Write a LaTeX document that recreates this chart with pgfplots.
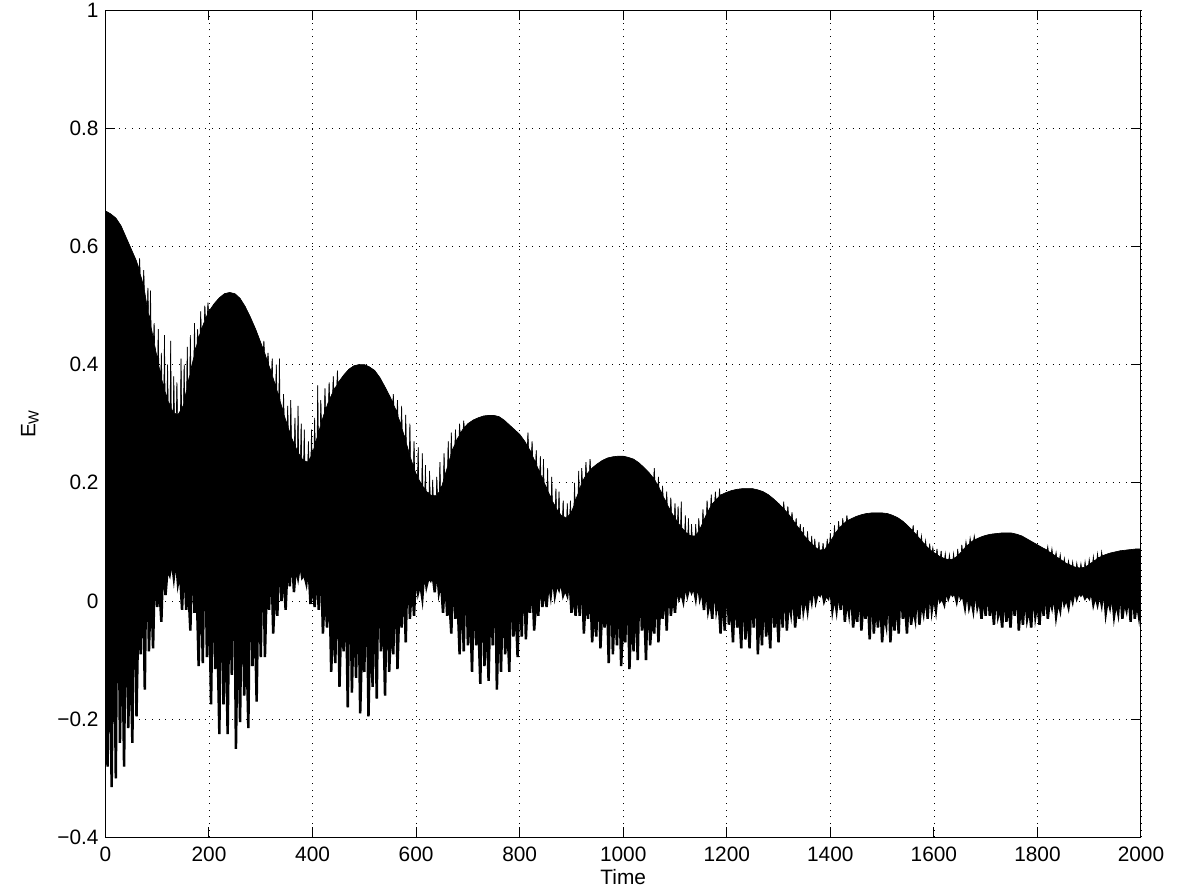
\documentclass[border=0pt]{standalone}
\usepackage{fontspec}
\setmainfont{Liberation Sans}
\usepackage{pgfplots}
\usepackage{pgfplotstable}
\pgfplotsset{compat=1.18}
\begin{document}
\pgfplotstableread[row sep=\\]{
x y\\
0 0.66\\ 10 0.655\\ 20 0.648\\ 30 0.635\\ 40 0.615\\ 50 0.595\\ 60 0.575\\ 65 0.56\\ 66 0.58\\ 67 0.553\\ 70 0.545\\
73 0.533\\ 74 0.56\\ 75 0.527\\ 80 0.50\\ 81 0.495\\ 82 0.53\\ 83 0.486\\ 86 0.473\\ 87 0.525\\ 88 0.464\\ 90 0.455\\
93 0.44\\ 94 0.47\\ 95 0.433\\ 100 0.41\\ 101 0.406\\ 102 0.46\\ 103 0.398\\ 107 0.382\\ 108 0.42\\ 109 0.374\\ 110 0.37\\
113 0.361\\ 114 0.45\\ 115 0.355\\ 119 0.343\\ 120 0.40\\ 121 0.338\\ 125 0.33\\ 126 0.44\\ 127 0.326\\ 130 0.32\\
131 0.32\\ 132 0.38\\ 133 0.318\\ 137 0.316\\ 138 0.37\\ 139 0.315\\ 140 0.315\\ 145 0.322\\ 146 0.41\\ 147 0.326\\ 150 0.33\\
151 0.334\\ 152 0.40\\ 153 0.342\\ 157 0.358\\ 158 0.43\\ 159 0.366\\ 160 0.37\\ 163 0.382\\ 164 0.45\\ 165 0.39\\ 170 0.41\\
171 0.413\\ 172 0.47\\ 173 0.42\\ 177 0.435\\ 178 0.46\\ 179 0.442\\ 180 0.445\\ 183 0.453\\ 184 0.49\\ 185 0.458\\ 190 0.47\\
191 0.472\\ 192 0.50\\ 193 0.476\\ 197 0.485\\ 198 0.505\\ 199 0.488\\ 200 0.49\\ 210 0.503\\ 220 0.513\\ 230 0.52\\ 240 0.522\\
250 0.52\\ 260 0.512\\ 270 0.498\\ 280 0.48\\ 290 0.46\\ 300 0.437\\ 305 0.425\\ 306 0.44\\ 307 0.421\\ 310 0.413\\
313 0.405\\ 314 0.42\\ 315 0.40\\ 320 0.388\\ 321 0.385\\ 322 0.41\\ 323 0.379\\ 329 0.363\\ 330 0.40\\ 331 0.357\\
335 0.345\\ 336 0.41\\ 337 0.339\\ 340 0.33\\ 343 0.321\\ 344 0.35\\ 345 0.315\\ 350 0.30\\ 351 0.297\\ 352 0.33\\ 353 0.293\\
357 0.283\\ 358 0.34\\ 359 0.278\\ 360 0.275\\ 365 0.265\\ 366 0.31\\ 367 0.261\\ 370 0.255\\ 371 0.253\\ 372 0.33\\ 373 0.25\\
377 0.244\\ 378 0.30\\ 379 0.242\\ 380 0.24\\ 383 0.238\\ 384 0.29\\ 385 0.237\\ 390 0.235\\ 391 0.236\\ 392 0.27\\ 393 0.237\\
397 0.245\\ 398 0.29\\ 399 0.248\\ 400 0.25\\ 403 0.259\\ 404 0.31\\ 405 0.265\\ 409 0.277\\ 410 0.365\\ 411 0.283\\
415 0.295\\ 416 0.34\\ 417 0.301\\ 420 0.31\\ 423 0.318\\ 424 0.36\\ 425 0.322\\ 430 0.335\\ 431 0.337\\ 432 0.37\\ 433 0.341\\
439 0.353\\ 440 0.38\\ 441 0.357\\ 447 0.365\\ 448 0.39\\ 449 0.369\\ 450 0.37\\ 460 0.382\\ 470 0.392\\ 480 0.398\\ 490 0.40\\
500 0.40\\ 510 0.396\\ 520 0.39\\ 530 0.378\\ 540 0.362\\ 550 0.345\\ 555 0.335\\ 556 0.35\\ 557 0.331\\ 560 0.325\\
563 0.319\\ 564 0.34\\ 565 0.312\\ 570 0.30\\ 571 0.297\\ 572 0.33\\ 573 0.291\\ 579 0.273\\ 580 0.315\\ 581 0.267\\
587 0.249\\ 588 0.30\\ 589 0.243\\ 590 0.24\\ 595 0.227\\ 596 0.27\\ 597 0.222\\ 600 0.215\\ 603 0.21\\ 604 0.26\\ 605 0.206\\
610 0.198\\ 611 0.196\\ 612 0.25\\ 613 0.194\\ 617 0.189\\ 618 0.23\\ 619 0.187\\ 620 0.185\\ 625 0.182\\ 626 0.22\\ 627 0.18\\
630 0.178\\ 631 0.178\\ 632 0.205\\ 633 0.178\\ 639 0.178\\ 640 0.21\\ 641 0.18\\ 645 0.185\\ 646 0.235\\ 647 0.19\\ 650 0.195\\
653 0.204\\ 654 0.25\\ 655 0.21\\ 660 0.225\\ 661 0.228\\ 662 0.27\\ 663 0.234\\ 667 0.246\\ 668 0.285\\ 669 0.252\\ 670 0.255\\
675 0.265\\ 676 0.29\\ 677 0.269\\ 680 0.275\\ 683 0.279\\ 684 0.30\\ 685 0.283\\ 690 0.29\\ 691 0.291\\ 692 0.305\\ 693 0.293\\
700 0.30\\ 710 0.306\\ 720 0.31\\ 730 0.313\\ 740 0.314\\ 750 0.314\\ 760 0.312\\ 770 0.306\\ 780 0.298\\ 790 0.29\\ 800 0.282\\
810 0.27\\ 815 0.262\\ 816 0.285\\ 817 0.259\\ 820 0.255\\ 823 0.25\\ 824 0.27\\ 825 0.245\\ 830 0.235\\ 831 0.233\\ 832 0.255\\ 833 0.229\\
839 0.217\\ 840 0.245\\ 841 0.213\\ 845 0.205\\ 846 0.24\\ 847 0.201\\ 850 0.195\\ 853 0.189\\ 854 0.225\\ 855 0.185\\ 860 0.175\\
861 0.173\\ 862 0.21\\ 863 0.169\\ 869 0.16\\ 870 0.19\\ 871 0.156\\ 875 0.151\\ 876 0.185\\ 877 0.149\\ 880 0.145\\
883 0.143\\ 884 0.17\\ 885 0.143\\ 890 0.14\\ 891 0.141\\ 892 0.165\\ 893 0.142\\ 897 0.147\\ 898 0.17\\ 899 0.149\\ 900 0.15\\
905 0.162\\ 906 0.20\\ 907 0.167\\ 910 0.175\\ 913 0.182\\ 914 0.22\\ 915 0.187\\ 919 0.197\\ 920 0.225\\ 921 0.202\\
927 0.211\\ 928 0.235\\ 929 0.214\\ 930 0.215\\ 935 0.22\\ 936 0.24\\ 937 0.222\\ 940 0.225\\ 950 0.232\\ 960 0.238\\ 970 0.242\\
980 0.244\\ 990 0.245\\ 1000 0.245\\ 1010 0.243\\ 1020 0.24\\ 1030 0.234\\ 1040 0.226\\ 1050 0.217\\ 1059 0.207\\ 1060 0.225\\ 1061 0.205\\
1067 0.194\\ 1068 0.21\\ 1069 0.192\\ 1070 0.19\\ 1075 0.181\\ 1076 0.195\\ 1077 0.177\\ 1080 0.172\\ 1083 0.167\\ 1084 0.185\\ 1085 0.163\\
1090 0.155\\ 1091 0.153\\ 1092 0.175\\ 1093 0.15\\ 1099 0.141\\ 1100 0.165\\ 1101 0.139\\ 1105 0.133\\ 1106 0.16\\ 1107 0.131\\
1110 0.127\\ 1111 0.126\\ 1112 0.168\\ 1113 0.124\\ 1119 0.118\\ 1120 0.145\\ 1121 0.116\\ 1125 0.113\\ 1126 0.14\\ 1127 0.112\\
1130 0.11\\ 1131 0.11\\ 1132 0.13\\ 1133 0.11\\ 1139 0.11\\ 1140 0.13\\ 1141 0.111\\ 1145 0.117\\ 1146 0.14\\ 1147 0.121\\ 1150 0.125\\
1153 0.131\\ 1154 0.155\\ 1155 0.135\\ 1160 0.145\\ 1161 0.147\\ 1162 0.17\\ 1163 0.15\\ 1169 0.16\\ 1170 0.18\\ 1171 0.163\\
1177 0.169\\ 1178 0.185\\ 1179 0.171\\ 1180 0.172\\ 1185 0.176\\ 1186 0.19\\ 1187 0.178\\ 1190 0.18\\ 1200 0.184\\ 1210 0.187\\
1220 0.189\\ 1230 0.19\\ 1240 0.19\\ 1250 0.19\\ 1260 0.188\\ 1270 0.185\\ 1280 0.18\\ 1290 0.173\\ 1300 0.165\\
1309 0.157\\ 1310 0.168\\ 1311 0.155\\ 1317 0.149\\ 1318 0.16\\ 1319 0.147\\ 1320 0.146\\ 1325 0.14\\ 1326 0.15\\ 1327 0.138\\
1330 0.134\\ 1333 0.13\\ 1334 0.14\\ 1335 0.128\\ 1340 0.122\\ 1341 0.121\\ 1342 0.13\\ 1343 0.119\\ 1347 0.113\\ 1348 0.125\\ 1349 0.111\\
1350 0.11\\ 1355 0.105\\ 1356 0.118\\ 1357 0.103\\ 1360 0.10\\ 1363 0.097\\ 1364 0.11\\ 1365 0.096\\ 1369 0.093\\ 1370 0.105\\ 1371 0.091\\
1377 0.087\\ 1378 0.10\\ 1379 0.086\\ 1380 0.086\\ 1385 0.087\\ 1386 0.098\\ 1387 0.087\\ 1390 0.088\\ 1393 0.092\\ 1394 0.105\\ 1395 0.094\\
1399 0.099\\ 1400 0.115\\ 1401 0.101\\ 1407 0.111\\ 1408 0.128\\ 1409 0.113\\ 1410 0.115\\ 1415 0.121\\ 1416 0.135\\ 1417 0.123\\
1420 0.126\\ 1423 0.128\\ 1424 0.14\\ 1425 0.13\\ 1430 0.134\\ 1431 0.135\\ 1432 0.145\\ 1433 0.136\\ 1440 0.139\\ 1450 0.143\\
1460 0.146\\ 1470 0.148\\ 1480 0.149\\ 1490 0.149\\ 1500 0.149\\ 1510 0.148\\ 1520 0.145\\ 1530 0.141\\ 1540 0.135\\ 1550 0.127\\
1559 0.119\\ 1560 0.128\\ 1561 0.117\\ 1567 0.111\\ 1568 0.12\\ 1569 0.109\\ 1570 0.108\\ 1575 0.103\\ 1576 0.11\\ 1577 0.101\\
1580 0.098\\ 1583 0.095\\ 1584 0.102\\ 1585 0.093\\ 1590 0.089\\ 1591 0.088\\ 1592 0.097\\ 1593 0.086\\ 1597 0.084\\ 1598 0.09\\ 1599 0.083\\
1600 0.082\\ 1605 0.079\\ 1606 0.088\\ 1607 0.078\\ 1610 0.076\\ 1613 0.075\\ 1614 0.085\\ 1615 0.074\\ 1620 0.072\\
1621 0.072\\ 1622 0.08\\ 1623 0.071\\ 1629 0.07\\ 1630 0.078\\ 1631 0.07\\ 1637 0.071\\ 1638 0.08\\ 1639 0.072\\ 1640 0.072\\
1645 0.076\\ 1646 0.088\\ 1647 0.078\\ 1650 0.08\\ 1653 0.083\\ 1654 0.095\\ 1655 0.085\\ 1660 0.09\\ 1661 0.091\\ 1662 0.10\\ 1663 0.093\\
1669 0.097\\ 1670 0.106\\ 1671 0.099\\ 1677 0.103\\ 1678 0.11\\ 1679 0.104\\ 1680 0.104\\ 1690 0.108\\ 1700 0.111\\ 1710 0.113\\
1720 0.114\\ 1730 0.115\\ 1740 0.115\\ 1750 0.115\\ 1760 0.113\\ 1770 0.11\\ 1780 0.105\\ 1790 0.10\\ 1800 0.095\\ 1810 0.09\\
1819 0.086\\ 1820 0.092\\ 1821 0.084\\ 1827 0.081\\ 1828 0.088\\ 1829 0.08\\ 1830 0.079\\ 1835 0.076\\ 1836 0.082\\ 1837 0.074\\
1840 0.073\\ 1843 0.071\\ 1844 0.078\\ 1845 0.07\\ 1850 0.067\\ 1851 0.066\\ 1852 0.072\\ 1853 0.065\\ 1859 0.062\\ 1860 0.068\\ 1861 0.062\\
1867 0.059\\ 1868 0.066\\ 1869 0.058\\ 1870 0.058\\ 1875 0.057\\ 1876 0.064\\ 1877 0.057\\ 1880 0.056\\ 1883 0.056\\ 1884 0.063\\ 1885 0.056\\
1890 0.057\\ 1891 0.057\\ 1892 0.066\\ 1893 0.058\\ 1899 0.061\\ 1900 0.07\\ 1901 0.063\\ 1907 0.066\\ 1908 0.075\\ 1909 0.067\\
1910 0.068\\ 1915 0.071\\ 1916 0.08\\ 1917 0.073\\ 1920 0.074\\ 1923 0.075\\ 1924 0.083\\ 1925 0.076\\ 1930 0.078\\ 1940 0.081\\
1950 0.083\\ 1960 0.085\\ 1970 0.086\\ 1980 0.087\\ 1990 0.088\\ 2000 0.088\\
}\uptable
\pgfplotstableread[row sep=\\]{
x y\\
0 0.14\\ 4 -0.28\\ 8 -0.03\\ 12 -0.315\\ 16 0.06\\ 20 -0.30\\ 24 0.178\\ 28 -0.24\\ 32 -0.01\\ 36 -0.28\\
40 0.085\\ 44 -0.215\\ 48 -0.06\\ 52 -0.24\\ 56 0.125\\ 60 -0.195\\ 64 0.005\\ 68 -0.09\\ 72 0.075\\ 76 -0.15\\
80 0.15\\ 84 -0.085\\ 88 0.04\\ 92 -0.08\\ 96 0.085\\ 100 -0.01\\ 104 0.025\\ 108 -0.035\\ 112 0.085\\ 116 0.01\\
120 0.055\\ 124 0.045\\ 128 0.07\\ 132 0.04\\ 136 0.075\\ 140 0.03\\ 144 0.05\\ 148 -0.015\\ 152 0.075\\ 156 -0.015\\
160 0.025\\ 164 -0.05\\ 168 0.10\\ 172 -0.02\\ 176 0.03\\ 180 -0.11\\ 184 0.075\\ 188 -0.105\\ 192 0.15\\ 196 -0.095\\
200 0.025\\ 204 -0.175\\ 208 0.085\\ 212 -0.115\\ 216 -0.045\\ 220 -0.225\\ 224 0.12\\ 228 -0.175\\ 232 -0.02\\ 236 -0.225\\
240 0.06\\ 244 -0.125\\ 248 0.16\\ 252 -0.25\\ 256 0.0\\ 260 -0.205\\ 264 0.08\\ 268 -0.16\\ 272 -0.055\\ 276 -0.215\\
280 0.12\\ 284 -0.11\\ 288 0.0\\ 292 -0.17\\ 296 0.07\\ 300 -0.095\\ 304 0.14\\ 308 -0.095\\ 312 0.045\\ 316 -0.015\\
320 0.09\\ 324 -0.055\\ 328 0.03\\ 332 -0.025\\ 336 0.10\\ 340 0.0\\ 344 0.05\\ 348 -0.015\\ 352 0.07\\ 356 0.025\\
360 0.09\\ 364 0.015\\ 368 0.06\\ 372 0.04\\ 376 0.065\\ 380 0.04\\ 384 0.045\\ 388 0.03\\ 392 0.065\\ 396 -0.005\\
400 0.035\\ 404 -0.01\\ 408 0.055\\ 412 -0.015\\ 416 0.09\\ 420 -0.055\\ 424 0.025\\ 428 -0.045\\ 432 0.06\\ 436 -0.12\\
440 -0.025\\ 444 -0.105\\ 448 0.085\\ 452 -0.145\\ 456 -0.01\\ 460 -0.085\\ 464 0.045\\ 468 -0.18\\ 472 0.12\\ 476 -0.155\\
480 0.0\\ 484 -0.13\\ 488 0.055\\ 492 -0.19\\ 496 -0.055\\ 500 -0.12\\ 504 0.09\\ 508 -0.195\\ 512 -0.02\\ 516 -0.145\\
520 0.04\\ 524 -0.165\\ 528 0.115\\ 532 -0.085\\ 536 0.005\\ 540 -0.16\\ 544 0.06\\ 548 -0.12\\ 552 -0.03\\ 556 -0.09\\
560 0.08\\ 564 -0.115\\ 568 0.005\\ 572 -0.045\\ 576 0.05\\ 580 -0.07\\ 584 0.09\\ 588 -0.03\\ 592 0.035\\ 596 -0.025\\
600 0.055\\ 604 0.015\\ 608 0.03\\ 612 0.005\\ 616 0.055\\ 620 0.025\\ 624 0.04\\ 628 0.035\\ 632 0.045\\ 636 0.015\\
640 0.06\\ 644 0.015\\ 648 0.035\\ 652 -0.02\\ 656 0.05\\ 660 -0.025\\ 664 0.005\\ 668 -0.055\\ 672 0.06\\ 676 -0.03\\
680 0.005\\ 684 -0.09\\ 688 0.04\\ 692 -0.085\\ 696 0.09\\ 700 -0.075\\ 704 0.005\\ 708 -0.12\\ 712 0.045\\ 716 -0.075\\
720 -0.03\\ 724 -0.14\\ 728 0.07\\ 732 -0.11\\ 736 -0.015\\ 740 -0.135\\ 744 0.035\\ 748 -0.075\\ 752 0.095\\ 756 -0.15\\
760 0.0\\ 764 -0.12\\ 768 0.045\\ 772 -0.09\\ 776 -0.03\\ 780 -0.12\\ 784 0.065\\ 788 -0.06\\ 792 0.0\\ 796 -0.095\\
800 0.04\\ 804 -0.06\\ 808 0.08\\ 812 -0.065\\ 816 0.02\\ 820 -0.02\\ 824 0.045\\ 828 -0.05\\ 832 0.005\\ 836 -0.025\\
840 0.05\\ 844 -0.01\\ 848 0.025\\ 852 -0.01\\ 856 0.035\\ 860 0.01\\ 864 0.045\\ 868 0.01\\ 872 0.03\\ 876 0.02\\
880 0.035\\ 884 0.01\\ 888 0.02\\ 892 0.01\\ 896 0.045\\ 900 -0.02\\ 904 0.015\\ 908 -0.025\\ 912 0.03\\ 916 -0.025\\
920 0.06\\ 924 -0.055\\ 928 0.015\\ 932 -0.03\\ 936 0.04\\ 940 -0.07\\ 944 -0.01\\ 948 -0.06\\ 952 0.055\\ 956 -0.08\\
960 0.0\\ 964 -0.045\\ 968 0.03\\ 972 -0.105\\ 976 0.075\\ 980 -0.09\\ 984 0.0\\ 988 -0.075\\ 992 0.04\\ 996 -0.11\\
1000 -0.03\\ 1004 -0.07\\ 1008 0.06\\ 1012 -0.115\\ 1016 -0.01\\ 1020 -0.085\\ 1024 0.03\\ 1028 -0.10\\ 1032 0.075\\ 1036 -0.05\\
1040 0.005\\ 1044 -0.10\\ 1048 0.04\\ 1052 -0.075\\ 1056 -0.02\\ 1060 -0.055\\ 1064 0.05\\ 1068 -0.07\\ 1072 0.005\\ 1076 -0.03\\
1080 0.03\\ 1084 -0.05\\ 1088 0.05\\ 1092 -0.025\\ 1096 0.015\\ 1100 -0.02\\ 1104 0.03\\ 1108 0.005\\ 1112 0.015\\ 1116 0.0\\
1120 0.03\\ 1124 0.01\\ 1128 0.025\\ 1132 0.015\\ 1136 0.025\\ 1140 0.005\\ 1144 0.035\\ 1148 0.005\\ 1152 0.02\\ 1156 -0.015\\
1160 0.03\\ 1164 -0.015\\ 1168 0.005\\ 1172 -0.03\\ 1176 0.04\\ 1180 -0.015\\ 1184 0.005\\ 1188 -0.055\\ 1192 0.025\\ 1196 -0.05\\
1200 0.055\\ 1204 -0.04\\ 1208 0.005\\ 1212 -0.07\\ 1216 0.03\\ 1220 -0.045\\ 1224 -0.015\\ 1228 -0.08\\ 1232 0.045\\ 1236 -0.065\\
1240 -0.005\\ 1244 -0.08\\ 1248 0.025\\ 1252 -0.045\\ 1256 0.06\\ 1260 -0.09\\ 1264 0.0\\ 1268 -0.075\\ 1272 0.03\\ 1276 -0.06\\
1280 -0.02\\ 1284 -0.08\\ 1288 0.04\\ 1292 -0.045\\ 1296 -0.005\\ 1300 -0.07\\ 1304 0.02\\ 1308 -0.045\\ 1312 0.05\\ 1316 -0.05\\
1320 0.005\\ 1324 -0.02\\ 1328 0.025\\ 1332 -0.045\\ 1336 0.0\\ 1340 -0.03\\ 1344 0.03\\ 1348 -0.015\\ 1352 0.01\\ 1356 -0.015\\
1360 0.02\\ 1364 0.0\\ 1368 0.03\\ 1372 0.0\\ 1376 0.015\\ 1380 0.01\\ 1384 0.02\\ 1388 0.0\\ 1392 0.01\\ 1396 0.005\\
1400 0.025\\ 1404 -0.015\\ 1408 0.01\\ 1412 -0.015\\ 1416 0.02\\ 1420 -0.015\\ 1424 0.035\\ 1428 -0.035\\ 1432 0.005\\ 1436 -0.02\\
1440 0.025\\ 1444 -0.045\\ 1448 -0.01\\ 1452 -0.035\\ 1456 0.035\\ 1460 -0.05\\ 1464 0.0\\ 1468 -0.03\\ 1472 0.02\\ 1476 -0.065\\
1480 0.045\\ 1484 -0.055\\ 1488 0.0\\ 1492 -0.045\\ 1496 0.02\\ 1500 -0.07\\ 1504 -0.02\\ 1508 -0.04\\ 1512 0.035\\ 1516 -0.07\\
1520 -0.005\\ 1524 -0.05\\ 1528 0.015\\ 1532 -0.055\\ 1536 0.04\\ 1540 -0.03\\ 1544 0.0\\ 1548 -0.055\\ 1552 0.02\\ 1556 -0.04\\
1560 -0.01\\ 1564 -0.03\\ 1568 0.03\\ 1572 -0.04\\ 1576 0.0\\ 1580 -0.02\\ 1584 0.015\\ 1588 -0.03\\ 1592 0.03\\ 1596 -0.015\\
1600 0.01\\ 1604 -0.015\\ 1608 0.02\\ 1612 0.0\\ 1616 0.005\\ 1620 -0.005\\ 1624 0.02\\ 1628 0.005\\ 1632 0.015\\ 1636 0.01\\
1640 0.015\\ 1644 0.0\\ 1648 0.02\\ 1652 0.005\\ 1656 0.01\\ 1660 -0.01\\ 1664 0.02\\ 1668 -0.01\\ 1672 0.005\\ 1676 -0.015\\
1680 0.025\\ 1684 -0.01\\ 1688 0.005\\ 1692 -0.03\\ 1696 0.015\\ 1700 -0.025\\ 1704 0.03\\ 1708 -0.025\\ 1712 0.005\\ 1716 -0.04\\
1720 0.02\\ 1724 -0.025\\ 1728 -0.01\\ 1732 -0.045\\ 1736 0.025\\ 1740 -0.035\\ 1744 0.0\\ 1748 -0.045\\ 1752 0.015\\ 1756 -0.025\\
1760 0.035\\ 1764 -0.05\\ 1768 0.0\\ 1772 -0.04\\ 1776 0.015\\ 1780 -0.03\\ 1784 -0.01\\ 1788 -0.045\\ 1792 0.025\\ 1796 -0.025\\
1800 0.0\\ 1804 -0.04\\ 1808 0.015\\ 1812 -0.025\\ 1816 0.03\\ 1820 -0.03\\ 1824 0.005\\ 1828 -0.01\\ 1832 0.015\\ 1836 -0.025\\
1840 0.0\\ 1844 -0.015\\ 1848 0.02\\ 1852 -0.005\\ 1856 0.005\\ 1860 -0.01\\ 1864 0.015\\ 1868 0.0\\ 1872 0.02\\ 1876 0.005\\
1880 0.015\\ 1884 0.01\\ 1888 0.015\\ 1892 0.005\\ 1896 0.01\\ 1900 0.005\\ 1904 0.02\\ 1908 -0.005\\ 1912 0.01\\ 1916 -0.005\\
1920 0.015\\ 1924 -0.005\\ 1928 0.025\\ 1932 -0.02\\ 1936 0.005\\ 1940 -0.01\\ 1944 0.015\\ 1948 -0.025\\ 1952 0.0\\ 1956 -0.02\\
1960 0.025\\ 1964 -0.03\\ 1968 0.0\\ 1972 -0.015\\ 1976 0.015\\ 1980 -0.035\\ 1984 0.03\\ 1988 -0.03\\ 1992 0.0\\ 1996 -0.025\\
2000 0.015\\
}\lotable
\pgfplotstablesort[sort key=x, sort cmp={float >}]{\lorev}{\lotable}
\pgfplotstablevertcat{\polytable}{\uptable}
\pgfplotstablevertcat{\polytable}{\lorev}
\hbox to 699.3pt{\hskip54.9pt\smash{\begin{tikzpicture}[baseline=0pt, trim left=0pt, trim right=621pt]
\begin{axis}[
  at={(0,0)}, anchor=south west, scale only axis,
  width=621pt, height=496.2pt,
  xmin=0, xmax=2000, ymin=-0.4, ymax=1,
  xtick={0,200,...,2000},
  xticklabels={0,200,400,600,800,1000,1200,1400,1600,1800,2000},
  ytick={-0.4,-0.2,0,0.2,0.4,0.6,0.8,1},
  yticklabels={−0.4,−0.2,0,0.2,0.4,0.6,0.8,1},
  grid=major,
  major grid style={black, line width=0.45pt, dash pattern=on 0.6pt off 3.4pt},
  tick align=inside, major tick length=6pt,
  tick style={black, line width=0.6pt},
  axis line style={black, line width=0.6pt},
  tick label style={font=\fontsize{12.5}{14}\selectfont},
  label style={font=\fontsize{12.5}{14}\selectfont},
  xticklabel style={yshift=-2pt},
  yticklabel style={xshift=-0.6pt},
  xlabel={Time}, ylabel={E\textsubscript{W}},
  xlabel style={at={(axis description cs:0.5,-0.048)}, anchor=center},
  ylabel style={at={(axis description cs:-0.073,0.5)}, anchor=center},
]
\addplot[black, fill=black, line width=0.1pt] table {\polytable} -- cycle;
\addplot[black, line width=0.4pt] table {\uptable};
\addplot[black, line width=1.5pt] table {\lotable};
\end{axis}
\end{tikzpicture}}\hfil\rule[-31.4pt]{0pt}{533.6pt}}
\end{document}
